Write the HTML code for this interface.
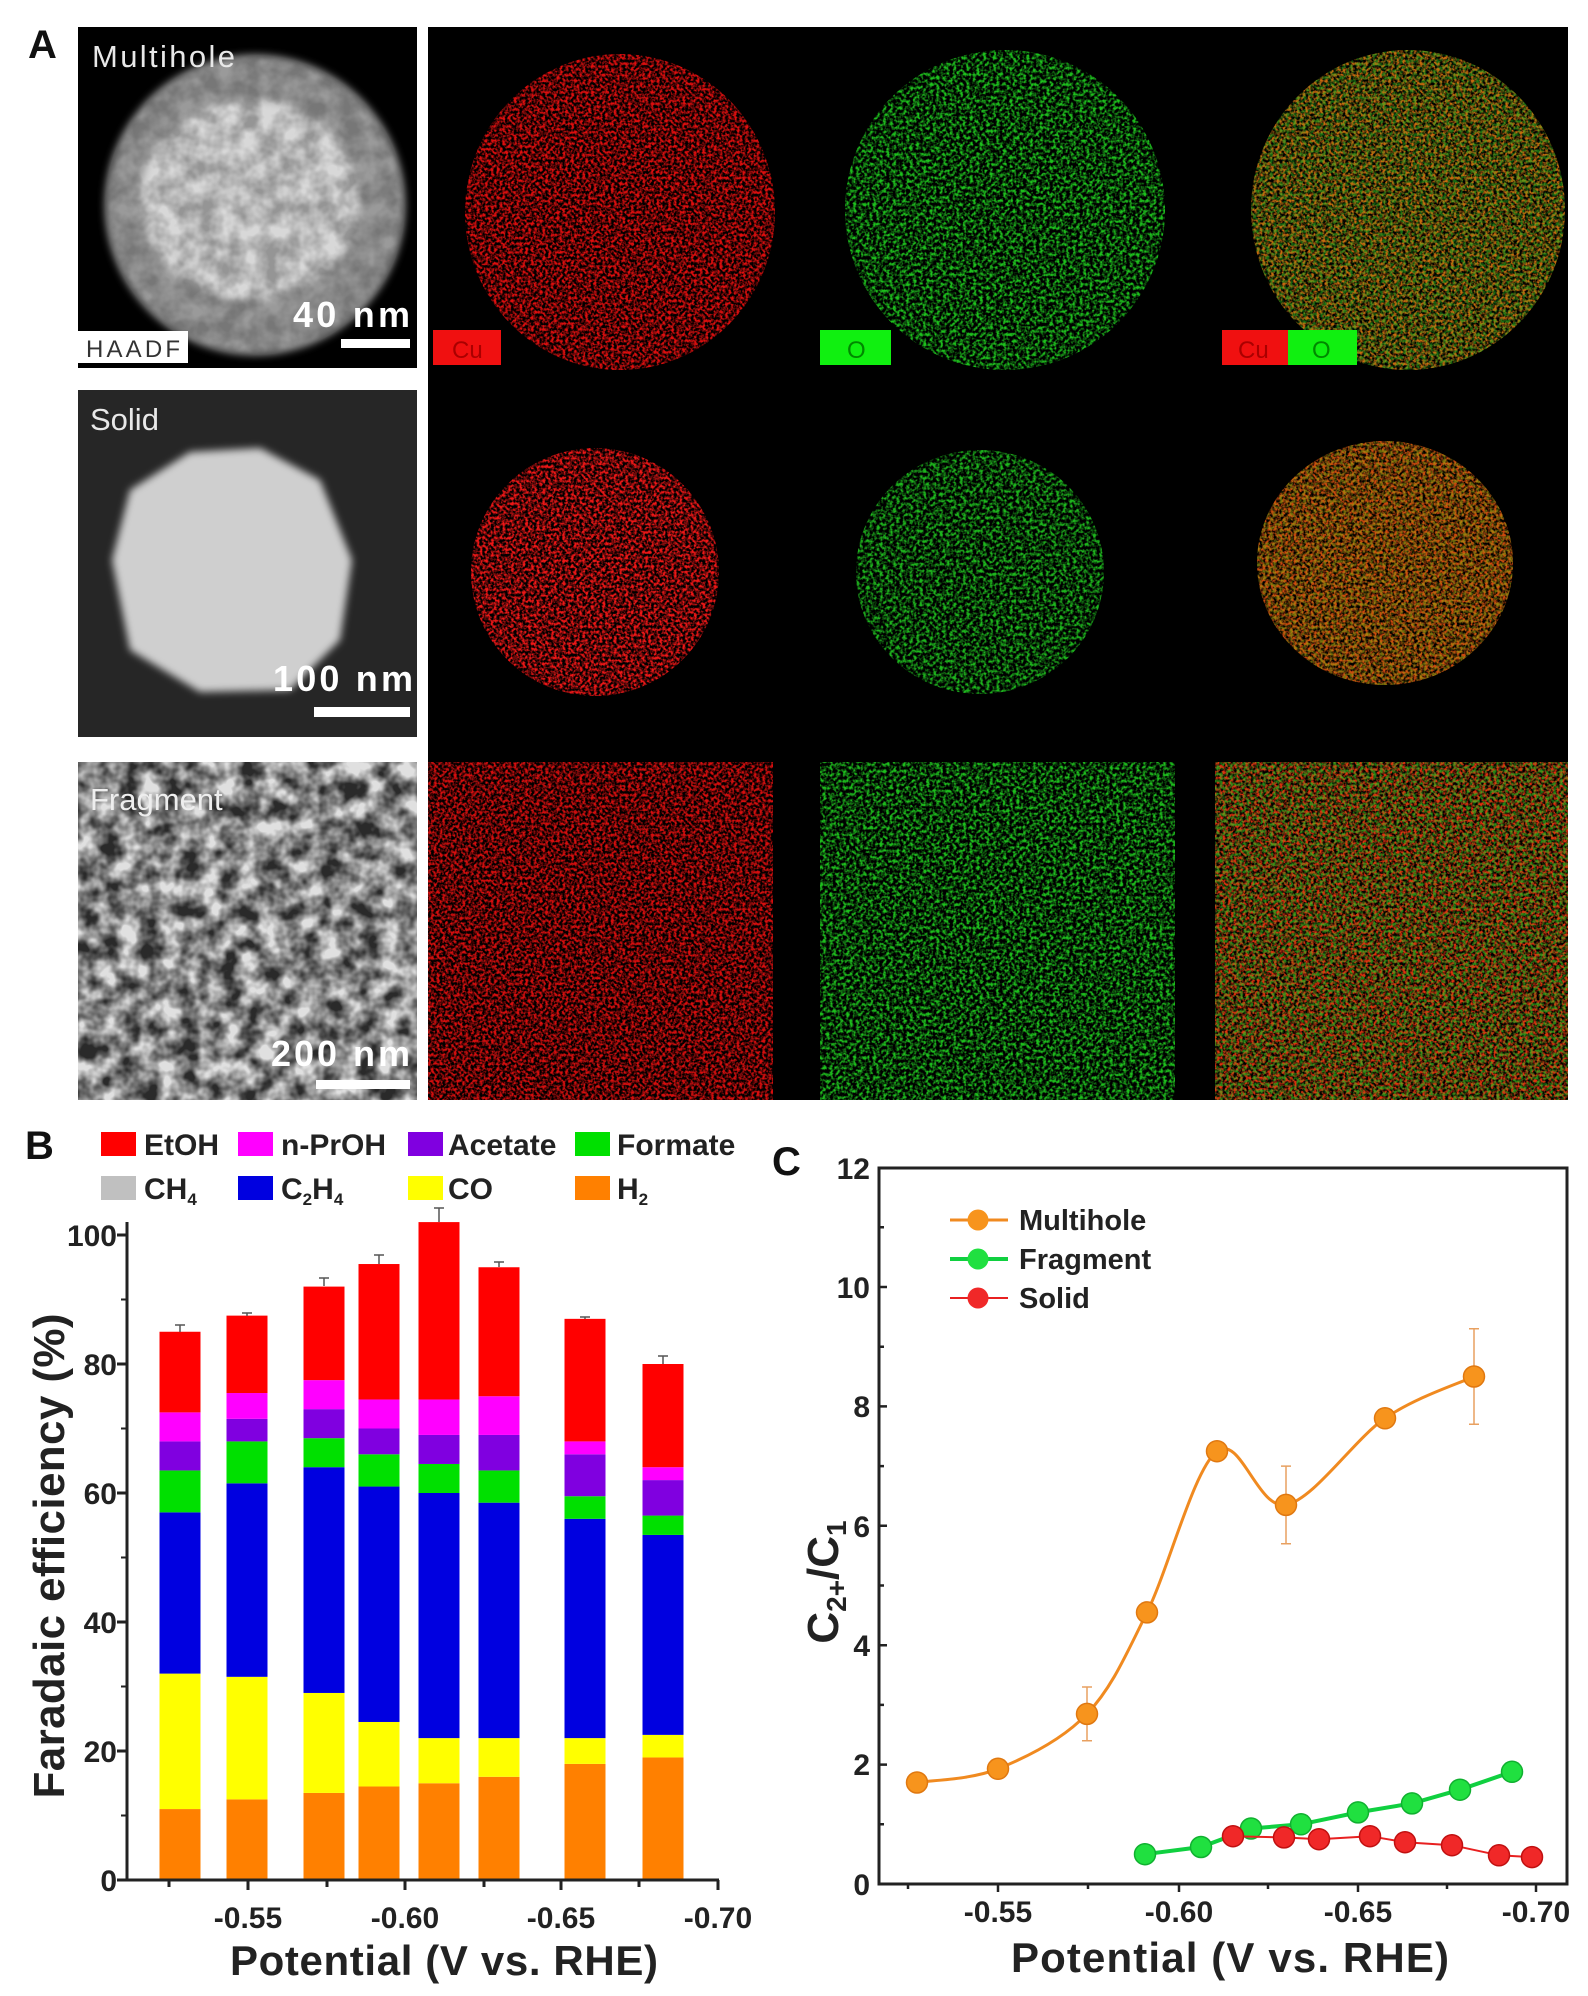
<!DOCTYPE html>
<html><head><meta charset="utf-8"><style>
html,body{margin:0;padding:0;background:#fff;}
svg{display:block;font-family:"Liberation Sans",Arial,sans-serif;}
</style></head><body>
<svg width="1588" height="1996" viewBox="0 0 1588 1996" xmlns="http://www.w3.org/2000/svg">
<defs>
<filter id="spk" x="0" y="0" width="100%" height="100%">
<feTurbulence type="fractalNoise" baseFrequency="0.35" numOctaves="2" seed="3" result="n"/>
<feColorMatrix in="n" type="matrix" values="0 0 0 0 0  0 0 0 0 0  0 0 0 0 0  0 0 0 3 -1.1" result="a"/>
<feComposite in="SourceGraphic" in2="a" operator="in"/>
</filter>
<filter id="spk2" x="0" y="0" width="100%" height="100%">
<feTurbulence type="fractalNoise" baseFrequency="0.3" numOctaves="2" seed="7" result="n"/>
<feColorMatrix in="n" type="matrix" values="0 0 0 0 0  0 0 0 0 0  0 0 0 0 0  0 0 0 3 -1.2" result="a"/>
<feComposite in="SourceGraphic" in2="a" operator="in"/>
</filter>
<filter id="tex" x="0" y="0" width="100%" height="100%">
<feTurbulence type="fractalNoise" baseFrequency="0.05" numOctaves="3" seed="2" result="n"/>
<feColorMatrix in="n" type="matrix" values="0 0 0 0 0  0 0 0 0 0  0 0 0 0 0  0 0 0 2.2 -0.6" result="a"/>
<feComposite in="SourceGraphic" in2="a" operator="in"/>
</filter>
<filter id="blur"><feGaussianBlur stdDeviation="4"/></filter>
</defs>

<!-- Panel A -->
<text x="28" y="58" font-size="40" font-weight="bold" fill="#111">A</text>
<rect x="78" y="27" width="339" height="341" fill="#000"/>
<ellipse cx="255" cy="205" rx="150" ry="150" fill="#9a9a9a" filter="url(#blur)"/>
<ellipse cx="250" cy="200" rx="110" ry="100" fill="#d8d8d8" filter="url(#blur)"/>
<ellipse cx="255" cy="205" rx="150" ry="150" fill="#555" filter="url(#tex)" opacity="0.5"/>
<text x="92" y="67" font-size="31" fill="#e8e8e8" textLength="143">Multihole</text>
<text x="293" y="327" font-size="36" font-weight="bold" fill="#fff" textLength="117">40 nm</text>
<rect x="341" y="339" width="69" height="9" fill="#fff"/>
<rect x="78" y="331" width="110" height="32" fill="#fff"/>
<text x="86" y="357" font-size="24" fill="#333" textLength="94">HAADF</text>

<rect x="78" y="390" width="339" height="347" fill="#262626"/>
<polygon points="190,452 260,448 320,480 352,560 340,640 290,690 200,692 130,650 112,560 130,490" fill="#cfcfcf" filter="url(#blur)"/>
<text x="90" y="430" font-size="31" fill="#e8e8e8">Solid</text>
<text x="273" y="691" font-size="36" font-weight="bold" fill="#fff" textLength="140">100 nm</text>
<rect x="314" y="707" width="96" height="10" fill="#fff"/>

<rect x="78" y="762" width="339" height="338" fill="#2a2a2a"/>
<rect x="78" y="762" width="339" height="338" fill="#e0e0e0" filter="url(#tex)"/>
<text x="90" y="810" font-size="31" fill="#eee">Fragment</text>
<text x="271" y="1066" font-size="36" font-weight="bold" fill="#fff" textLength="139">200 nm</text>
<rect x="316" y="1080" width="94" height="9" fill="#fff"/>

<rect x="428" y="27" width="1140" height="1073" fill="#000"/>
<!-- row1 -->
<ellipse cx="620" cy="212" rx="155" ry="158" fill="#e01010" filter="url(#spk)"/>
<ellipse cx="1005" cy="210" rx="160" ry="160" fill="#1fc21f" filter="url(#spk2)"/>
<ellipse cx="1408" cy="210" rx="157" ry="160" fill="#c86a10" filter="url(#spk)"/>
<ellipse cx="1408" cy="210" rx="157" ry="160" fill="#20b020" filter="url(#spk2)" opacity="0.6"/>
<rect x="433" y="330" width="68" height="35" fill="#f01010"/><text x="452" y="358" font-size="24" fill="#a00">Cu</text>
<rect x="820" y="330" width="71" height="35" fill="#10f010"/><text x="847" y="358" font-size="24" fill="#080">O</text>
<rect x="1222" y="330" width="66" height="35" fill="#f01010"/><text x="1238" y="358" font-size="24" fill="#a00">Cu</text>
<rect x="1288" y="330" width="69" height="35" fill="#10f010"/><text x="1312" y="358" font-size="24" fill="#080">O</text>
<!-- row2 -->
<ellipse cx="595" cy="572" rx="124" ry="124" fill="#f01818" filter="url(#spk)"/>
<ellipse cx="980" cy="572" rx="124" ry="122" fill="#1fb81f" filter="url(#spk2)"/>
<ellipse cx="1385" cy="563" rx="128" ry="122" fill="#d04a10" filter="url(#spk)"/>
<ellipse cx="1385" cy="563" rx="128" ry="122" fill="#9a9a10" filter="url(#spk2)" opacity="0.7"/>
<!-- row3 -->
<rect x="428" y="762" width="345" height="338" fill="#d81010" filter="url(#spk)"/>
<rect x="820" y="762" width="355" height="338" fill="#1fc01f" filter="url(#spk2)"/>
<rect x="1215" y="762" width="353" height="338" fill="#e03010" filter="url(#spk)"/>
<rect x="1215" y="762" width="353" height="338" fill="#30c020" filter="url(#spk2)" opacity="0.7"/>

<!-- Panel B -->
<text x="25" y="1159" font-size="40" font-weight="bold" fill="#111">B</text>
<g font-size="30" font-weight="bold" fill="#222">
<rect x="101" y="1132" width="35" height="24" fill="#ff0000"/><text x="144" y="1155">EtOH</text>
<rect x="238" y="1132" width="35" height="24" fill="#ff00ff"/><text x="281" y="1155">n-PrOH</text>
<rect x="408" y="1132" width="35" height="24" fill="#8000e0"/><text x="448" y="1155">Acetate</text>
<rect x="575" y="1132" width="35" height="24" fill="#00e000"/><text x="617" y="1155">Formate</text>
<rect x="101" y="1176" width="35" height="24" fill="#c0c0c0"/><text x="144" y="1199">CH<tspan font-size="17" dy="6">4</tspan></text>
<rect x="238" y="1176" width="35" height="24" fill="#0000e0"/><text x="281" y="1199">C<tspan font-size="17" dy="6">2</tspan><tspan dy="-6">H</tspan><tspan font-size="17" dy="6">4</tspan></text>
<rect x="408" y="1176" width="35" height="24" fill="#ffff00"/><text x="448" y="1199">CO</text>
<rect x="575" y="1176" width="35" height="24" fill="#ff8000"/><text x="617" y="1199">H<tspan font-size="17" dy="6">2</tspan></text>
</g>

<g transform="translate(0,1880) scale(1,-6.45)">
<!-- bars: H2, CO, C2H4, Formate, Acetate, nPrOH, EtOH cumulative -->
<g transform="translate(159.5,0)">
<rect width="41" y="0" height="11" fill="#ff8000"/><rect width="41" y="11" height="21" fill="#ffff00"/><rect width="41" y="32" height="25" fill="#0000e0"/><rect width="41" y="57" height="6.5" fill="#00e000"/><rect width="41" y="63.5" height="4.5" fill="#8000e0"/><rect width="41" y="68" height="4.5" fill="#ff00ff"/><rect width="41" y="72.5" height="12.5" fill="#ff0000"/></g>
<g transform="translate(226.5,0)">
<rect width="41" y="0" height="12.5" fill="#ff8000"/><rect width="41" y="12.5" height="19" fill="#ffff00"/><rect width="41" y="31.5" height="30" fill="#0000e0"/><rect width="41" y="61.5" height="6.5" fill="#00e000"/><rect width="41" y="68" height="3.5" fill="#8000e0"/><rect width="41" y="71.5" height="4" fill="#ff00ff"/><rect width="41" y="75.5" height="12" fill="#ff0000"/></g>
<g transform="translate(303.5,0)">
<rect width="41" y="0" height="13.5" fill="#ff8000"/><rect width="41" y="13.5" height="15.5" fill="#ffff00"/><rect width="41" y="29" height="35" fill="#0000e0"/><rect width="41" y="64" height="4.5" fill="#00e000"/><rect width="41" y="68.5" height="4.5" fill="#8000e0"/><rect width="41" y="73" height="4.5" fill="#ff00ff"/><rect width="41" y="77.5" height="14.5" fill="#ff0000"/></g>
<g transform="translate(358.5,0)">
<rect width="41" y="0" height="14.5" fill="#ff8000"/><rect width="41" y="14.5" height="10" fill="#ffff00"/><rect width="41" y="24.5" height="36.5" fill="#0000e0"/><rect width="41" y="61" height="5" fill="#00e000"/><rect width="41" y="66" height="4" fill="#8000e0"/><rect width="41" y="70" height="4.5" fill="#ff00ff"/><rect width="41" y="74.5" height="21" fill="#ff0000"/></g>
<g transform="translate(418.5,0)">
<rect width="41" y="0" height="15" fill="#ff8000"/><rect width="41" y="15" height="7" fill="#ffff00"/><rect width="41" y="22" height="38" fill="#0000e0"/><rect width="41" y="60" height="4.5" fill="#00e000"/><rect width="41" y="64.5" height="4.5" fill="#8000e0"/><rect width="41" y="69" height="5.5" fill="#ff00ff"/><rect width="41" y="74.5" height="27.5" fill="#ff0000"/></g>
<g transform="translate(478.5,0)">
<rect width="41" y="0" height="16" fill="#ff8000"/><rect width="41" y="16" height="6" fill="#ffff00"/><rect width="41" y="22" height="36.5" fill="#0000e0"/><rect width="41" y="58.5" height="5" fill="#00e000"/><rect width="41" y="63.5" height="5.5" fill="#8000e0"/><rect width="41" y="69" height="6" fill="#ff00ff"/><rect width="41" y="75" height="20" fill="#ff0000"/></g>
<g transform="translate(564.5,0)">
<rect width="41" y="0" height="18" fill="#ff8000"/><rect width="41" y="18" height="4" fill="#ffff00"/><rect width="41" y="22" height="34" fill="#0000e0"/><rect width="41" y="56" height="3.5" fill="#00e000"/><rect width="41" y="59.5" height="6.5" fill="#8000e0"/><rect width="41" y="66" height="2" fill="#ff00ff"/><rect width="41" y="68" height="19" fill="#ff0000"/></g>
<g transform="translate(642.5,0)">
<rect width="41" y="0" height="19" fill="#ff8000"/><rect width="41" y="19" height="3.5" fill="#ffff00"/><rect width="41" y="22.5" height="31" fill="#0000e0"/><rect width="41" y="53.5" height="3" fill="#00e000"/><rect width="41" y="56.5" height="5.5" fill="#8000e0"/><rect width="41" y="62" height="2" fill="#ff00ff"/><rect width="41" y="64" height="16" fill="#ff0000"/></g>
</g>
<!-- error caps on top -->
<g stroke="#555" stroke-width="1.5">
<path d="M180,1332v-7M175,1325h10M247,1316v-3M242,1313h10M324,1286v-8M319,1278h10M379,1264v-9M374,1255h10M439,1222v-14M434,1208h10M499,1267v-5M494,1262h10M585,1319v-2M580,1317h10M663,1364v-8M658,1356h10"/>
</g>
<!-- axes B -->
<g stroke="#222" stroke-width="3" fill="none">
<path d="M127,1222V1880H719"/>
<path d="M127,1880h-10M127,1751h-10M127,1622h-10M127,1493h-10M127,1364h-10M127,1235h-10" />
<path d="M127,1815.5h-6M127,1686.5h-6M127,1557.5h-6M127,1428.5h-6M127,1299.5h-6" stroke-width="2"/>
<path d="M248,1880v10M405,1880v10M561,1880v10M718,1880v10M169,1880v7M327,1880v7M484,1880v7M639,1880v7"/>
</g>
<g font-size="30" font-weight="bold" fill="#222" text-anchor="end">
<text x="117" y="1891">0</text><text x="117" y="1762">20</text><text x="117" y="1633">40</text><text x="117" y="1504">60</text><text x="117" y="1375">80</text><text x="117" y="1246">100</text>
</g>
<g font-size="30" font-weight="bold" fill="#222" text-anchor="middle">
<text x="248" y="1928">-0.55</text><text x="405" y="1928">-0.60</text><text x="561" y="1928">-0.65</text><text x="718" y="1928">-0.70</text>
</g>
<text x="444" y="1975" font-size="42" font-weight="bold" fill="#222" text-anchor="middle" textLength="428">Potential (V vs. RHE)</text>
<text transform="translate(64,1556) rotate(-90)" font-size="44" font-weight="bold" fill="#222" text-anchor="middle" textLength="485">Faradaic efficiency (%)</text>

<!-- Panel C -->
<text x="772" y="1175" font-size="40" font-weight="bold" fill="#111">C</text>
<rect x="879" y="1168" width="688" height="716" fill="none" stroke="#222" stroke-width="3"/>
<g stroke="#222" stroke-width="2.5">
<path d="M879,1764.6h8M879,1645.2h8M879,1525.8h8M879,1406.4h8M879,1287h8M879,1824.3h5M879,1704.9h5M879,1585.5h5M879,1466.1h5M879,1346.7h5M879,1227.3h5"/>
<path d="M998,1884v8M1179,1884v8M1358,1884v8M1536,1884v8M908,1884v5M1088,1884v5M1268,1884v5M1447,1884v5"/>
</g>
<g font-size="30" font-weight="bold" fill="#222" text-anchor="end">
<text x="870" y="1895">0</text><text x="870" y="1775">2</text><text x="870" y="1656">4</text><text x="870" y="1537">6</text><text x="870" y="1417">8</text><text x="870" y="1298">10</text><text x="870" y="1179">12</text>
</g>
<g font-size="30" font-weight="bold" fill="#222" text-anchor="middle">
<text x="998" y="1922">-0.55</text><text x="1179" y="1922">-0.60</text><text x="1358" y="1922">-0.65</text><text x="1536" y="1922">-0.70</text>
</g>
<text x="1230" y="1972" font-size="42" font-weight="bold" fill="#222" text-anchor="middle" textLength="438">Potential (V vs. RHE)</text>
<text transform="translate(838,1582) rotate(-90)" font-size="44" font-weight="bold" fill="#222" text-anchor="middle">C<tspan font-size="28" dy="8">2+</tspan><tspan dy="-8">/C</tspan><tspan font-size="28" dy="8">1</tspan></text>

<!-- error bars C -->
<g stroke="#e8a060" stroke-width="1.5">
<path d="M1087,1740.7V1687M1082,1740.7h10M1082,1687h10M1286,1543.7V1466.1M1281,1543.7h10M1281,1466.1h10M1474,1424.3V1328.8M1469,1424.3h10M1469,1328.8h10"/>
</g>
<!-- multihole -->
<path d="M917,1782.5C930.5,1780.2 969.7,1780.2 998,1768.8C1026.3,1757.4 1062.2,1740 1087,1713.9C1111.8,1687.8 1125.3,1656.2 1147,1612.4C1168.7,1568.6 1193.8,1469.1 1217,1451.2C1240.2,1433.3 1258,1510.4 1286,1504.9C1314,1499.4 1353.7,1439.7 1385,1418.3C1416.3,1396.9 1459.2,1383.5 1474,1376.5" fill="none" stroke="#f08a20" stroke-width="3"/>
<g fill="#f7941d" stroke="#e07810" stroke-width="1.5">
<circle cx="917" cy="1782.5" r="10.5"/><circle cx="998" cy="1768.8" r="10.5"/><circle cx="1087" cy="1713.9" r="10.5"/><circle cx="1147" cy="1612.4" r="10.5"/><circle cx="1217" cy="1451.2" r="10.5"/><circle cx="1286" cy="1504.9" r="10.5"/><circle cx="1385" cy="1418.3" r="10.5"/><circle cx="1474" cy="1376.5" r="10.5"/>
</g>
<!-- fragment -->
<polyline points="1145,1854.2 1201,1847 1251,1828.5 1301,1824.3 1358,1812.4 1412,1803.4 1460,1789.7 1512,1771.8" fill="none" stroke="#10d040" stroke-width="4"/>
<g fill="#20e040" stroke="#10b030" stroke-width="1.5">
<circle cx="1145" cy="1854.2" r="10.5"/><circle cx="1201" cy="1847" r="10.5"/><circle cx="1251" cy="1828.5" r="10.5"/><circle cx="1301" cy="1824.3" r="10.5"/><circle cx="1358" cy="1812.4" r="10.5"/><circle cx="1412" cy="1803.4" r="10.5"/><circle cx="1460" cy="1789.7" r="10.5"/><circle cx="1512" cy="1771.8" r="10.5"/>
</g>
<!-- solid -->
<polyline points="1233,1836.2 1284,1837.4 1319,1839.2 1370,1836.2 1405,1842.2 1452,1845.2 1499,1855.3 1532,1857.1" fill="none" stroke="#e82020" stroke-width="2"/>
<g fill="#f02828" stroke="#c01010" stroke-width="1.5">
<circle cx="1233" cy="1836.2" r="10.5"/><circle cx="1284" cy="1837.4" r="10.5"/><circle cx="1319" cy="1839.2" r="10.5"/><circle cx="1370" cy="1836.2" r="10.5"/><circle cx="1405" cy="1842.2" r="10.5"/><circle cx="1452" cy="1845.2" r="10.5"/><circle cx="1499" cy="1855.3" r="10.5"/><circle cx="1532" cy="1857.1" r="10.5"/>
</g>
<!-- legend C -->
<line x1="950" y1="1220" x2="1008" y2="1220" stroke="#f08a20" stroke-width="3"/><circle cx="978" cy="1220" r="10.5" fill="#f7941d"/>
<line x1="950" y1="1259" x2="1008" y2="1259" stroke="#10d040" stroke-width="4"/><circle cx="978" cy="1259" r="10.5" fill="#20e040"/>
<line x1="950" y1="1298" x2="1008" y2="1298" stroke="#e82020" stroke-width="2"/><circle cx="978" cy="1298" r="10.5" fill="#f02828"/>
<g font-size="29" font-weight="bold" fill="#222">
<text x="1019" y="1230">Multihole</text><text x="1019" y="1269">Fragment</text><text x="1019" y="1308">Solid</text>
</g>
</svg>
</body></html>
